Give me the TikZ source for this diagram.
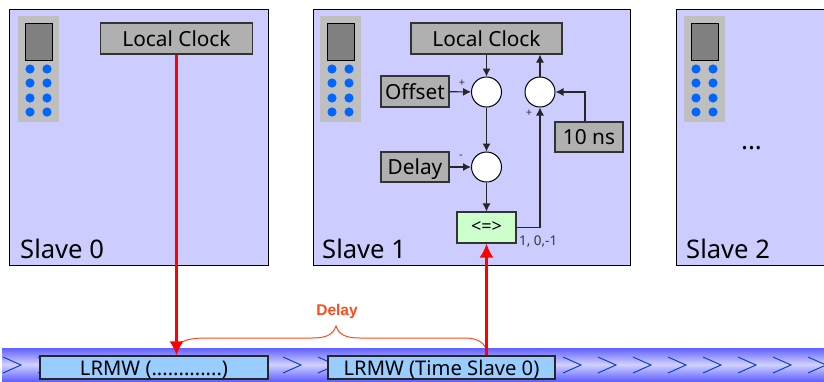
\documentclass[tikz,border=0pt]{standalone}
\usepackage{fontspec}
\setmainfont{Noto Sans}
\newfontfamily\delayfont{Liberation Sans}
\usepackage{tikz}
\usetikzlibrary{arrows.meta}
\definecolor{panelblue}{HTML}{CCCCFF}
\definecolor{boxgrey}{HTML}{B0B0B0}
\definecolor{edgegrey}{HTML}{333333}
\definecolor{cmpgreen}{HTML}{CCFFCC}
\definecolor{framesblue}{HTML}{99CCFF}
\definecolor{dotblue}{HTML}{0066FF}
\definecolor{delayred}{HTML}{FF4A1A}
\definecolor{chevronblue}{HTML}{1144CC}
\tikzset{
	panel/.style={draw=black,line width=.9pt,fill=panelblue,inner sep=0pt},
	greybox/.style={draw=edgegrey,line width=1.1pt,fill=boxgrey,inner sep=0pt,text height=15.5pt,text depth=0pt,font=\fontsize{20.8}{24}\selectfont},
	sumnode/.style={circle,draw=black,line width=1pt,fill=white,inner sep=0pt,minimum size=30pt},
	framebox/.style={draw=black!85,line width=1.1pt,fill=framesblue,inner sep=0pt,minimum width=227pt,minimum height=23pt,text height=15pt,text depth=0pt,font=\fontsize{20.2}{24}\selectfont},
	sign/.style={inner sep=0pt,text=edgegrey,font=\fontsize{11}{12}\selectfont},
	slavename/.style={inner sep=0pt,anchor=base west,font=\fontsize{25.6}{30}\selectfont},
	flow/.style={-{Latex[length=8pt,width=8pt]},line width=1.1pt,draw=black!85},
	redflow/.style={-{Latex[length=14pt,width=14pt]},line width=2.4pt,draw=red}
}
\begin{document}
\begin{tikzpicture}[x=1pt,y=-1pt]
			\useasboundingbox (0,0) rectangle (824,381);
			\node[panel,minimum width=259pt,minimum height=256pt] (slave0) at (138.5,137) {};
			\node[panel,minimum width=317pt,minimum height=256pt] (slave1) at (471.5,137) {};
			\node[panel,minimum width=148pt,minimum height=256pt] (slave2) at (750,137) {};
			\foreach \dx in {0,302,666} {
				\begin{scope}[xshift=\dx pt]
					\fill[black!25] (18,16) rectangle (59,122);
					\draw[black,line width=1pt,fill=black!50] (25,23) rectangle (52,60);
					\foreach \dy in {69,83,98,112} {
						\fill[dotblue] (30,\dy) circle (4.6);
						\fill[dotblue] (47,\dy) circle (4.6);
					}
				\end{scope}
			}
			\node[slavename] (name0) at (20,258) {Slave 0};
			\node[slavename] (name1) at (322,258) {Slave 1};
			\node[slavename] (name2) at (686,258) {Slave 2};
			\node[inner sep=0pt,anchor=base,font=\bfseries\fontsize{26}{30}\selectfont] (more) at (751.5,149) {...};
			\node[greybox,minimum width=152pt,minimum height=31pt] (clock0) at (176.5,38.5) {Local Clock};
			\node[greybox,minimum width=151pt,minimum height=31pt] (clock1) at (486.5,38.5) {Local Clock};
			\node[greybox,minimum width=68pt,minimum height=31pt] (offset) at (415,91.5) {Offset};
			\node[greybox,minimum width=68pt,minimum height=30pt] (delay) at (415,167) {Delay};
			\node[greybox,minimum width=68pt,minimum height=30pt] (tenns) at (589,137) {10 ns};
			\node[sumnode] (sum1) at (486.5,92) {};
			\node[sumnode] (sum2) at (540,92) {};
			\node[sumnode] (sum3) at (486.5,167) {};
			\node[draw=edgegrey,line width=1.1pt,fill=cmpgreen,inner sep=0pt,minimum width=59pt,minimum height=31pt,font=\fontsize{18}{20}\selectfont] (cmp) at (486.5,227.5) {<=>};
			\node[sign] (plus1) at (462,83) {+};
			\node[sign] (plus2) at (529,113) {+};
			\node[sign] (minus3) at (461,157) {-};
			\node[inner sep=0pt,anchor=west,text=edgegrey,font=\fontsize{13.4}{15}\selectfont] (result) at (519,242) {1, 0,-1};
			\draw[flow] (clock1) -- (sum1);
			\draw[flow] (offset) -- (sum1);
			\draw[flow] (sum1) -- (sum3);
			\draw[flow] (delay) -- (sum3);
			\draw[flow] (sum3) -- (cmp);
			\draw[flow] (cmp.east) -| (sum2.south);
			\draw[flow] (sum2.north) -- (sum2.north |- clock1.south);
			\draw[flow] ([xshift=-4pt]tenns.north) |- (sum2.east);
			\shade[top color=blue!62!white,bottom color=blue!62!white,middle color=panelblue!90!white] (2,348) rectangle (824,381);
			\foreach \k in {0,...,23} {
				\draw[chevronblue,line width=1pt] (3+35*\k,357) -- (21+35*\k,365) -- (3+35*\k,373);
			}
			\node[framebox,minimum width=228pt] (frame0) at (154,367.5) {LRMW (.............)};
			\node[framebox] (frame1) at (441.5,367.5) {LRMW (Time Slave 0)};
			\coordinate (bracel) at (178,344);
			\coordinate (bracetip) at (336,326);
			\coordinate (bracer) at (486,348);
			\draw[delayred,line width=1pt] (bracel) .. controls (186,339) and (194,338) .. (208,338) -- (312,338) .. controls (326,338) and (333,335) .. (bracetip) .. controls (339,335) and (346,338) .. (360,338) -- (465,338) .. controls (476,338) and (483,342) .. (bracer);
			\node[inner sep=0pt,text=delayred,font=\delayfont\bfseries\fontsize{15.5}{18}\selectfont] (delaylabel) at (337,311) {Delay};
			\draw[redflow] (clock0.south) -- (clock0.south |- frame0.north);
			\draw[redflow] (cmp.south |- frame1.north) -- (cmp.south);
		\end{tikzpicture}
\end{document}
